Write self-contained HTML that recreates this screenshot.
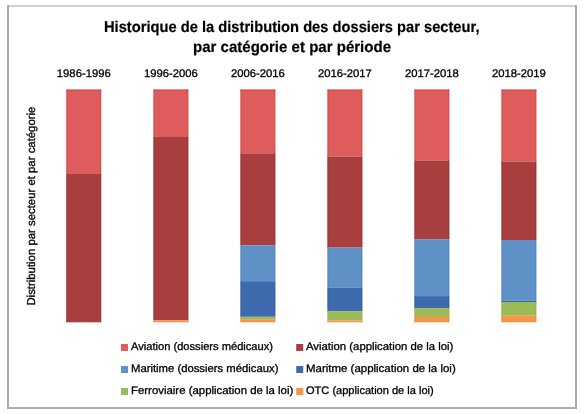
<!DOCTYPE html>
<html><head><meta charset="utf-8"><style>
html,body{margin:0;padding:0;background:#fff;}
body{width:588px;height:414px;overflow:hidden;}
svg{display:block;will-change:transform;font-family:"Liberation Sans",sans-serif;}
text{stroke:#000;stroke-width:0.3px;text-rendering:geometricPrecision;}
.t text{stroke-width:0.2px;}
</style></head><body>
<svg width="588" height="414" viewBox="0 0 588 414">
<rect x="0" y="0" width="588" height="414" fill="#fff"/>
<rect x="7" y="5" width="570" height="2" fill="#D0D0D0"/><rect x="7" y="407" width="570" height="2" fill="#AEAEAE"/><rect x="7" y="5" width="2" height="404" fill="#ABABAB"/><rect x="575" y="5" width="2" height="404" fill="#A9A9A9"/>
<g class="t" font-weight="bold" font-size="15.5" fill="#000" text-anchor="start">
<text x="104" y="31.5" textLength="375.5" lengthAdjust="spacingAndGlyphs">Historique de la distribution des dossiers par secteur,</text>
<text x="193" y="51.8" textLength="198" lengthAdjust="spacingAndGlyphs">par catégorie et par période</text>
</g>
<g font-size="11" fill="#000">
<text x="83.8" y="77" text-anchor="middle" textLength="54" lengthAdjust="spacingAndGlyphs">1986-1996</text><text x="170.9" y="77" text-anchor="middle" textLength="54" lengthAdjust="spacingAndGlyphs">1996-2006</text><text x="257.9" y="77" text-anchor="middle" textLength="54" lengthAdjust="spacingAndGlyphs">2006-2016</text><text x="344.9" y="77" text-anchor="middle" textLength="54" lengthAdjust="spacingAndGlyphs">2016-2017</text><text x="431.9" y="77" text-anchor="middle" textLength="54" lengthAdjust="spacingAndGlyphs">2017-2018</text><text x="518.9" y="77" text-anchor="middle" textLength="54" lengthAdjust="spacingAndGlyphs">2018-2019</text>
</g>
<rect x="66.4" y="89.4" width="34.8" height="84.60" fill="#DE5C5C"/><rect x="66.4" y="89.9" width="34.8" height="1" fill="#D84C4C"/><rect x="66.5" y="89.4" width="0.9" height="84.60" fill="#D84C4C"/><rect x="100.2" y="89.4" width="0.9" height="84.60" fill="#D84C4C"/><rect x="66.4" y="174" width="34.8" height="148.30" fill="#A83F3E"/><rect x="66.5" y="174" width="0.9" height="148.30" fill="#A23333"/><rect x="100.2" y="174" width="0.9" height="148.30" fill="#A23333"/><rect x="153.5" y="89.4" width="34.8" height="47.60" fill="#DE5C5C"/><rect x="153.5" y="89.9" width="34.8" height="1" fill="#D84C4C"/><rect x="153.6" y="89.4" width="0.9" height="47.60" fill="#D84C4C"/><rect x="187.3" y="89.4" width="0.9" height="47.60" fill="#D84C4C"/><rect x="153.5" y="137" width="34.8" height="183.40" fill="#A83F3E"/><rect x="153.6" y="137" width="0.9" height="183.40" fill="#A23333"/><rect x="187.3" y="137" width="0.9" height="183.40" fill="#A23333"/><rect x="153.5" y="320.4" width="34.8" height="1.90" fill="#F79646"/><rect x="153.6" y="320.4" width="0.9" height="1.90" fill="#F58A36"/><rect x="187.3" y="320.4" width="0.9" height="1.90" fill="#F58A36"/><rect x="240.5" y="89.4" width="34.8" height="63.90" fill="#DE5C5C"/><rect x="240.5" y="89.9" width="34.8" height="1" fill="#D84C4C"/><rect x="240.6" y="89.4" width="0.9" height="63.90" fill="#D84C4C"/><rect x="274.3" y="89.4" width="0.9" height="63.90" fill="#D84C4C"/><rect x="240.5" y="153.3" width="34.8" height="92.10" fill="#A83F3E"/><rect x="240.6" y="153.3" width="0.9" height="92.10" fill="#A23333"/><rect x="274.3" y="153.3" width="0.9" height="92.10" fill="#A23333"/><rect x="240.5" y="245.4" width="34.8" height="35.80" fill="#5F91C7"/><rect x="240.6" y="245.4" width="0.9" height="35.80" fill="#5288C4"/><rect x="274.3" y="245.4" width="0.9" height="35.80" fill="#5288C4"/><rect x="240.5" y="281.2" width="34.8" height="35.60" fill="#3E6BAE"/><rect x="240.6" y="281.2" width="0.9" height="35.60" fill="#3562A8"/><rect x="274.3" y="281.2" width="0.9" height="35.60" fill="#3562A8"/><rect x="240.5" y="316.8" width="34.8" height="2.40" fill="#9BBB59"/><rect x="240.6" y="316.8" width="0.9" height="2.40" fill="#93B54C"/><rect x="274.3" y="316.8" width="0.9" height="2.40" fill="#93B54C"/><rect x="240.5" y="319.2" width="34.8" height="3.10" fill="#F79646"/><rect x="240.6" y="319.2" width="0.9" height="3.10" fill="#F58A36"/><rect x="274.3" y="319.2" width="0.9" height="3.10" fill="#F58A36"/><rect x="327.5" y="89.4" width="34.8" height="67.10" fill="#DE5C5C"/><rect x="327.5" y="89.9" width="34.8" height="1" fill="#D84C4C"/><rect x="327.6" y="89.4" width="0.9" height="67.10" fill="#D84C4C"/><rect x="361.3" y="89.4" width="0.9" height="67.10" fill="#D84C4C"/><rect x="327.5" y="156.5" width="34.8" height="91.10" fill="#A83F3E"/><rect x="327.6" y="156.5" width="0.9" height="91.10" fill="#A23333"/><rect x="361.3" y="156.5" width="0.9" height="91.10" fill="#A23333"/><rect x="327.5" y="247.6" width="34.8" height="40.20" fill="#5F91C7"/><rect x="327.6" y="247.6" width="0.9" height="40.20" fill="#5288C4"/><rect x="361.3" y="247.6" width="0.9" height="40.20" fill="#5288C4"/><rect x="327.5" y="287.8" width="34.8" height="23.40" fill="#3E6BAE"/><rect x="327.6" y="287.8" width="0.9" height="23.40" fill="#3562A8"/><rect x="361.3" y="287.8" width="0.9" height="23.40" fill="#3562A8"/><rect x="327.5" y="311.2" width="34.8" height="9.30" fill="#9BBB59"/><rect x="327.6" y="311.2" width="0.9" height="9.30" fill="#93B54C"/><rect x="361.3" y="311.2" width="0.9" height="9.30" fill="#93B54C"/><rect x="327.5" y="320.5" width="34.8" height="1.80" fill="#F79646"/><rect x="327.6" y="320.5" width="0.9" height="1.80" fill="#F58A36"/><rect x="361.3" y="320.5" width="0.9" height="1.80" fill="#F58A36"/><rect x="414.5" y="89.4" width="34.8" height="71.00" fill="#DE5C5C"/><rect x="414.5" y="89.9" width="34.8" height="1" fill="#D84C4C"/><rect x="414.6" y="89.4" width="0.9" height="71.00" fill="#D84C4C"/><rect x="448.3" y="89.4" width="0.9" height="71.00" fill="#D84C4C"/><rect x="414.5" y="160.4" width="34.8" height="78.80" fill="#A83F3E"/><rect x="414.6" y="160.4" width="0.9" height="78.80" fill="#A23333"/><rect x="448.3" y="160.4" width="0.9" height="78.80" fill="#A23333"/><rect x="414.5" y="239.2" width="34.8" height="56.90" fill="#5F91C7"/><rect x="414.6" y="239.2" width="0.9" height="56.90" fill="#5288C4"/><rect x="448.3" y="239.2" width="0.9" height="56.90" fill="#5288C4"/><rect x="414.5" y="296.1" width="34.8" height="12.00" fill="#3E6BAE"/><rect x="414.6" y="296.1" width="0.9" height="12.00" fill="#3562A8"/><rect x="448.3" y="296.1" width="0.9" height="12.00" fill="#3562A8"/><rect x="414.5" y="308.1" width="34.8" height="8.80" fill="#9BBB59"/><rect x="414.6" y="308.1" width="0.9" height="8.80" fill="#93B54C"/><rect x="448.3" y="308.1" width="0.9" height="8.80" fill="#93B54C"/><rect x="414.5" y="316.9" width="34.8" height="5.40" fill="#F79646"/><rect x="414.6" y="316.9" width="0.9" height="5.40" fill="#F58A36"/><rect x="448.3" y="316.9" width="0.9" height="5.40" fill="#F58A36"/><rect x="501.5" y="89.4" width="34.8" height="72.10" fill="#DE5C5C"/><rect x="501.5" y="89.9" width="34.8" height="1" fill="#D84C4C"/><rect x="501.6" y="89.4" width="0.9" height="72.10" fill="#D84C4C"/><rect x="535.3" y="89.4" width="0.9" height="72.10" fill="#D84C4C"/><rect x="501.5" y="161.5" width="34.8" height="78.50" fill="#A83F3E"/><rect x="501.6" y="161.5" width="0.9" height="78.50" fill="#A23333"/><rect x="535.3" y="161.5" width="0.9" height="78.50" fill="#A23333"/><rect x="501.5" y="240" width="34.8" height="60.80" fill="#5F91C7"/><rect x="501.6" y="240" width="0.9" height="60.80" fill="#5288C4"/><rect x="535.3" y="240" width="0.9" height="60.80" fill="#5288C4"/><rect x="501.5" y="300.8" width="34.8" height="1.20" fill="#3E6BAE"/><rect x="501.6" y="300.8" width="0.9" height="1.20" fill="#3562A8"/><rect x="535.3" y="300.8" width="0.9" height="1.20" fill="#3562A8"/><rect x="501.5" y="302" width="34.8" height="13.70" fill="#9BBB59"/><rect x="501.6" y="302" width="0.9" height="13.70" fill="#93B54C"/><rect x="535.3" y="302" width="0.9" height="13.70" fill="#93B54C"/><rect x="501.5" y="315.7" width="34.8" height="6.60" fill="#F79646"/><rect x="501.6" y="315.7" width="0.9" height="6.60" fill="#F58A36"/><rect x="535.3" y="315.7" width="0.9" height="6.60" fill="#F58A36"/>
<g font-size="11" fill="#000">
<text font-size="11.5" transform="translate(35.4,305.6) rotate(-90)" textLength="199" lengthAdjust="spacingAndGlyphs">Distribution par secteur et par catégorie</text>
<rect x="121" y="344" width="7" height="7" fill="#DE5C5C"/><text x="131" y="350.2" textLength="142" lengthAdjust="spacingAndGlyphs">Aviation (dossiers médicaux)</text><rect x="296.2" y="344" width="7" height="7" fill="#A83F3E"/><text x="306" y="350.2" textLength="147.4" lengthAdjust="spacingAndGlyphs">Aviation (application de la loi)</text><rect x="121" y="366" width="7" height="7" fill="#5F91C7"/><text x="131" y="372.4" textLength="147.4" lengthAdjust="spacingAndGlyphs">Maritime (dossiers médicaux)</text><rect x="296.2" y="366" width="7" height="7" fill="#3E6BAE"/><text x="306" y="372.4" textLength="149.7" lengthAdjust="spacingAndGlyphs">Maritme (application de la loi)</text><rect x="121" y="388" width="7" height="7" fill="#9BBB59"/><text x="131" y="394.3" textLength="162.3" lengthAdjust="spacingAndGlyphs">Ferroviaire (application de la loi)</text><rect x="296.2" y="388" width="7" height="7" fill="#F79646"/><text x="306" y="394.3" textLength="127.7" lengthAdjust="spacingAndGlyphs">OTC (application de la loi)</text>
</g>
</svg>
</body></html>
